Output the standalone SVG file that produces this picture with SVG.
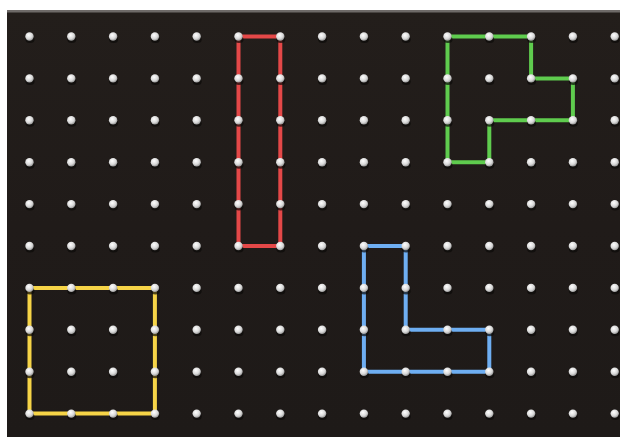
<svg xmlns="http://www.w3.org/2000/svg" xmlns:xlink="http://www.w3.org/1999/xlink" width="620" height="437" viewBox="0 0 620 437">
<style>
.band{fill:none;stroke-width:4;stroke-linejoin:round}
</style>
<defs>
<radialGradient id="pg" cx="0.4" cy="0.35" r="0.7">
<stop offset="0" stop-color="#ffffff"/>
<stop offset="0.6" stop-color="#d8d8d8"/>
<stop offset="1" stop-color="#8a8a8a"/>
</radialGradient>
<linearGradient id="bd" x1="0" y1="0" x2="0" y2="1">
<stop offset="0" stop-color="#231e1b"/>
<stop offset="0.5" stop-color="#201b19"/>
<stop offset="1" stop-color="#1e1a18"/>
</linearGradient>
<g id="peg"><ellipse cx="0.5" cy="3" rx="4.5" ry="3.5" fill="#0c0a09" opacity="0.7"/><circle r="4.2" fill="url(#pg)"/></g>
</defs>
<rect x="0" y="0" width="620" height="437" fill="#ffffff"/>
<rect x="7" y="10" width="613" height="427" fill="url(#bd)"/>
<rect x="7" y="10" width="613" height="2.5" fill="#6e6a68"/>
<g id="bands">
<path id="red" class="band" stroke="#e44848" d="M238.5 36.5H280.3V246H238.5Z"/>
<path id="green" class="band" stroke="#5fcc4e" d="M447.5 36.5H531.1V78.4H572.9V120.3H489.3V162.2H447.5Z"/>
<path id="yellow" class="band" stroke="#f6d447" d="M29.5 287.9H154.9V413.6H29.5Z"/>
<path id="blue" class="band" stroke="#6eaef2" d="M363.9 246H405.7V329.8H489.3V371.7H363.9Z"/>
</g>
<g id="pegs">
<g id="r0"><use xlink:href="#peg" x="29.5" y="36.5"/><use xlink:href="#peg" x="71.3" y="36.5"/><use xlink:href="#peg" x="113.1" y="36.5"/><use xlink:href="#peg" x="154.9" y="36.5"/><use xlink:href="#peg" x="196.7" y="36.5"/><use xlink:href="#peg" x="238.5" y="36.5"/><use xlink:href="#peg" x="280.3" y="36.5"/><use xlink:href="#peg" x="322.1" y="36.5"/><use xlink:href="#peg" x="363.9" y="36.5"/><use xlink:href="#peg" x="405.7" y="36.5"/><use xlink:href="#peg" x="447.5" y="36.5"/><use xlink:href="#peg" x="489.3" y="36.5"/><use xlink:href="#peg" x="531.1" y="36.5"/><use xlink:href="#peg" x="572.9" y="36.5"/><use xlink:href="#peg" x="614.7" y="36.5"/></g>
<use xlink:href="#r0" y="41.9"/>
<use xlink:href="#r0" y="83.8"/>
<use xlink:href="#r0" y="125.7"/>
<use xlink:href="#r0" y="167.6"/>
<use xlink:href="#r0" y="209.5"/>
<use xlink:href="#r0" y="251.4"/>
<use xlink:href="#r0" y="293.3"/>
<use xlink:href="#r0" y="335.2"/>
<use xlink:href="#r0" y="377.1"/>
</g>
</svg>
